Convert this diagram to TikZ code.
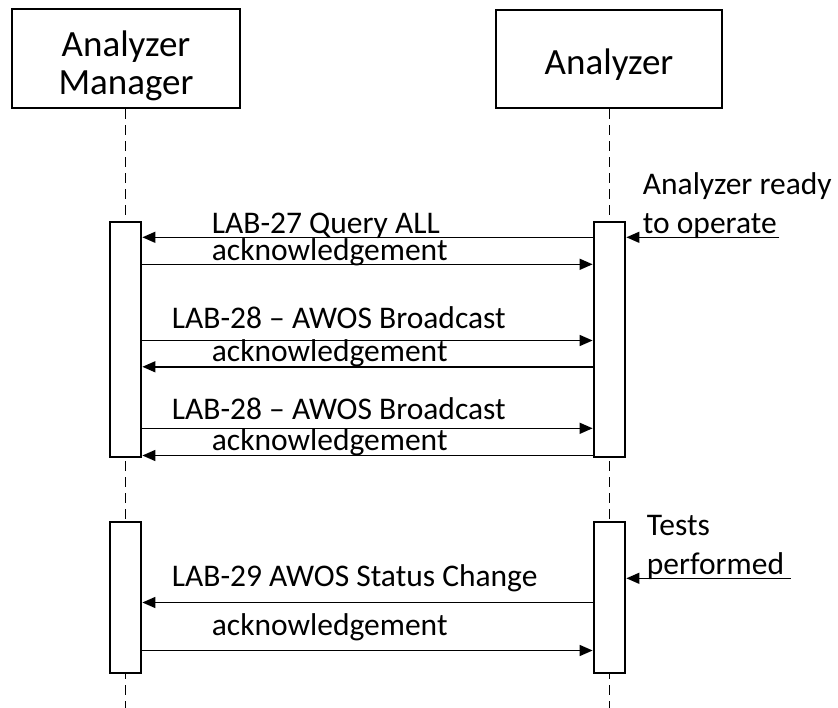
\documentclass[tikz,border=0pt]{standalone}
\usepackage{fontspec}
\setmainfont{Carlito}
\usetikzlibrary{arrows.meta}
\begin{document}
\begin{tikzpicture}[x=1pt,y=-1pt,
  head/.style={draw, line width=2.8pt, inner sep=0pt},
  htext/.style={align=center, inner sep=0pt, font=\fontsize{37}{38}\selectfont},
  act/.style={draw, fill=white, line width=2.8pt, minimum width=31pt, inner sep=0pt},
  msg/.style={line width=1.5pt, -{Triangle[length=13pt,width=11pt]}},
  life/.style={line width=1.8pt, dash pattern=on 10pt off 6pt},
  lbl/.style={anchor=base west, inner sep=0pt, font=\fontsize{31.5}{38.4}\selectfont},
  note/.style={anchor=base west, inner sep=0pt, align=left, font=\fontsize{31.5}{38.3}\selectfont},
]
\useasboundingbox (0,0) rectangle (838,708);

% headers
\node[head, minimum width=228pt, minimum height=99pt,
  label={[htext, yshift=-7pt]center:Analyzer\\Manager}] (LH) at (126,58.5) {};
\node[head, minimum width=226pt, minimum height=98pt,
  label={[htext, yshift=-6pt]center:Analyzer}] (RH) at (609,59) {};

% activation boxes (positions)
\coordinate (L1c) at (125.5,339.5);
\coordinate (R1c) at (609.5,339.5);
\coordinate (L2c) at (125.5,597.5);
\coordinate (R2c) at (609.5,597.5);
\coordinate (Lend) at (125.5,708);
\coordinate (Rend) at (609.5,708);

% lifelines
\draw[life] (LH.south -| L1c) -- (Lend);
\draw[life] (RH.south -| R1c) -- (Rend);

% activation boxes
\node[act, minimum height=235pt] (L1) at (L1c) {};
\node[act, minimum height=235pt] (R1) at (R1c) {};
\node[act, minimum height=151pt] (L2) at (L2c) {};
\node[act, minimum height=151pt] (R2) at (R2c) {};

% message rows
\coordinate (m1) at (0,237.3);
\coordinate (m2) at (0,264.3);
\coordinate (m3) at (0,340.5);
\coordinate (m4) at (0,366.8);
\coordinate (m5) at (0,428.3);
\coordinate (m6) at (0,455.5);
\coordinate (m7) at (0,602.5);
\coordinate (m8) at (0,650.5);

\draw[msg] (R1.west |- m1) -- (L1.east |- m1);
\draw[msg] (L1.east |- m2) -- (R1.west |- m2);
\draw[msg] (L1.east |- m3) -- (R1.west |- m3);
\draw[msg] (R1.west |- m4) -- (L1.east |- m4);
\draw[msg] (L1.east |- m5) -- (R1.west |- m5);
\draw[msg] (R1.west |- m6) -- (L1.east |- m6);
\draw[msg] (R2.west |- m7) -- (L2.east |- m7);
\draw[msg] (L2.east |- m8) -- (R2.west |- m8);

\node[lbl] (t1) at (211.7,234) {LAB-27 Query ALL};
\node[lbl] (t2) at (211.7,261) {acknowledgement};
\node[lbl] (t3) at (171.7,329) {LAB-28 – AWOS Broadcast};
\node[lbl] (t4) at (211.7,361.5) {acknowledgement};
\node[lbl] (t5) at (171.7,420) {LAB-28 – AWOS Broadcast};
\node[lbl] (t6) at (211.7,450) {acknowledgement};
\node[lbl] (t7) at (171.7,586.7) {LAB-29 AWOS Status Change};
\node[lbl] (t8) at (211.7,635.7) {acknowledgement};

% incoming events
\coordinate (e1) at (779.3,237.3);
\coordinate (e2) at (790.7,578.3);
\draw[msg] (e1) -- (R1.east |- e1);
\draw[msg] (e2) -- (R2.east |- e2);
\node[note] (n1) at (642.7,233.3) {Analyzer ready\\to operate};
\node[note] (n2) at (646.7,574) {Tests\\performed};
\end{tikzpicture}
\end{document}
